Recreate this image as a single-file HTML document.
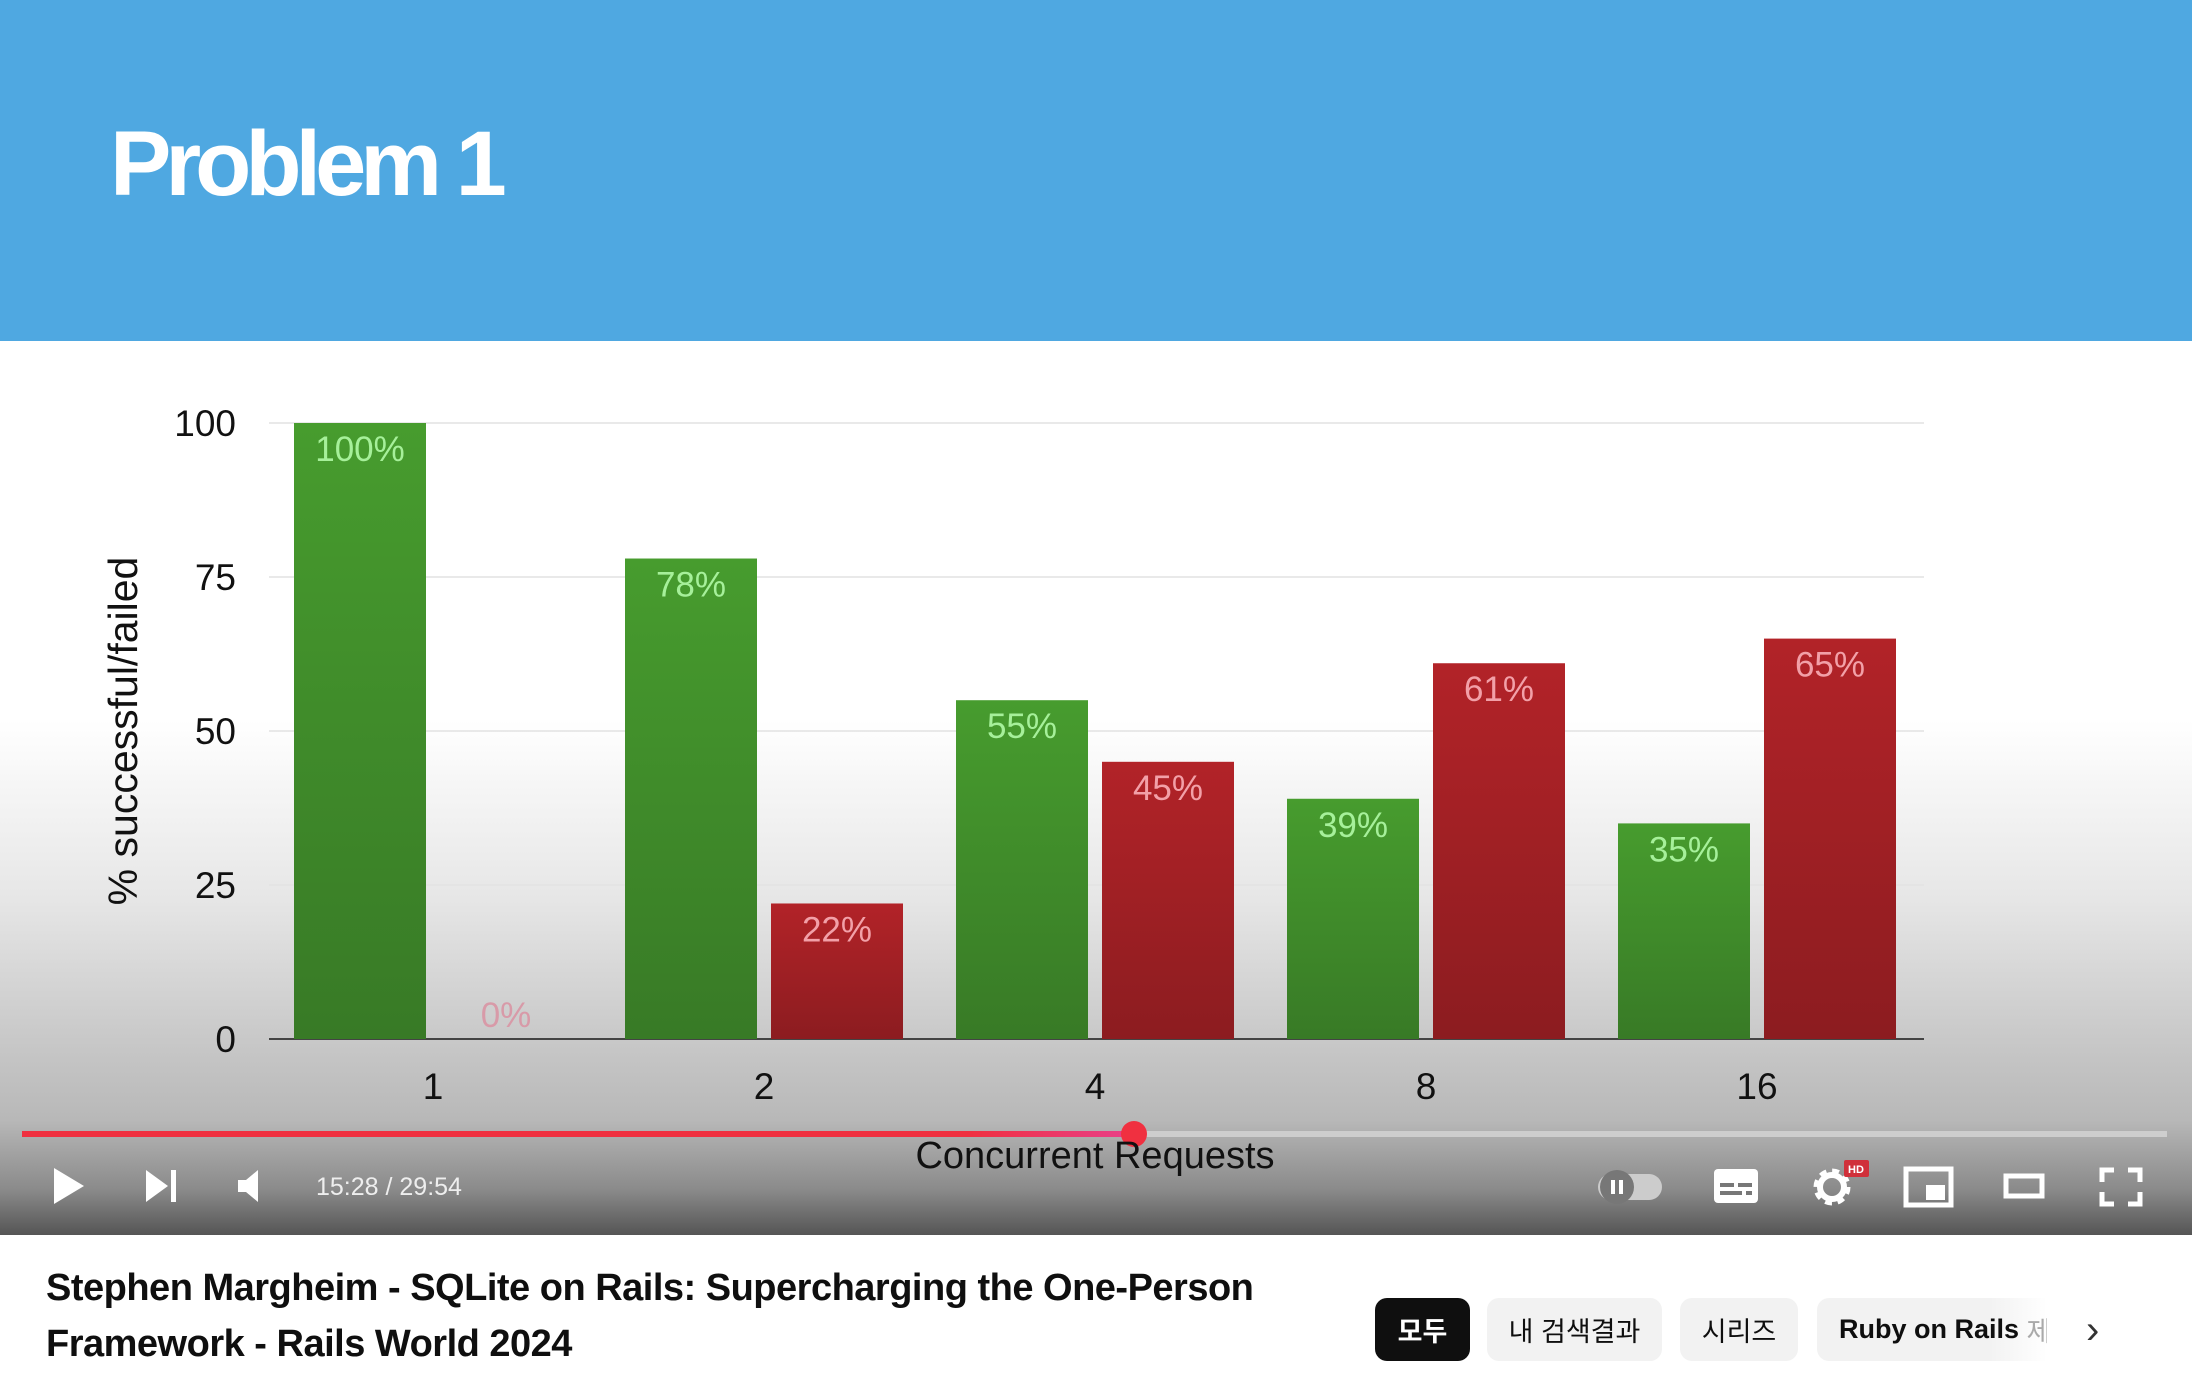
<!DOCTYPE html>
<html><head><meta charset="utf-8"><style>
body{margin:0;width:2194px;height:1374px;overflow:hidden;background:#fff;font-family:"Liberation Sans","Noto Sans CJK KR",sans-serif;position:relative}
.abs{position:absolute}
</style></head><body>
<div class="abs" style="left:0;top:0;width:2192px;height:1235px;background:linear-gradient(to bottom,#fff 0px,#fff 720px,#e6e6e6 900px,#c4c4c4 1060px,#b8b8b8 1120px,#8a8a8a 1190px,#555 1235px)"></div>
<div class="abs" style="left:0;top:0;width:2192px;height:341px;background:#4fa8e1"></div>
<div class="abs" style="left:110px;top:112px;font-size:92px;font-weight:bold;color:#fff;letter-spacing:-6px">Problem 1</div>
<svg class="abs" style="left:0;top:0" width="2194" height="1240" id="chart"></svg>
<div class="abs" style="left:22px;top:1131px;width:2145px;height:6px;background:rgba(220,220,220,0.7)"></div>
<div class="abs" style="left:22px;top:1131px;width:1112px;height:6px;background:linear-gradient(to right,#f03040 85%,#e8408a)"></div>
<div class="abs" style="left:1121px;top:1121px;width:26px;height:26px;border-radius:50%;background:#f03040"></div>
<div class="abs" style="left:895px;top:1135px;width:400px;text-align:center;font-size:38px;color:#111">Concurrent Requests</div>
<svg class="abs" style="left:0;top:1160px" width="2194" height="60">
<polygon points="54,8 84,26 54,44" fill="#fff"/>
<g><polygon points="146,10 168,26 146,42" fill="#fff"/><rect x="171" y="10" width="5" height="32" fill="#fff"/></g>
<g><polygon points="238,20 246,20 258,10 258,42 246,32 238,32" fill="#fff"/></g>
<text x="316" y="35" font-size="25" fill="#eee" font-family="Liberation Sans">15:28 / 29:54</text>
<g><rect x="1598" y="14" width="64" height="26" rx="13" fill="#ccc"/><circle cx="1617" cy="27" r="17" fill="#777"/><rect x="1611" y="20" width="4" height="14" fill="#fff"/><rect x="1619" y="20" width="4" height="14" fill="#fff"/></g>
<g><rect x="1714" y="9" width="44" height="34" rx="4" fill="#fff"/><rect x="1720" y="23" width="14" height="4" fill="#777"/><rect x="1738" y="23" width="14" height="4" fill="#777"/><rect x="1720" y="31" width="22" height="4" fill="#777"/><rect x="1746" y="31" width="6" height="4" fill="#777"/></g>
<g><circle cx="1832" cy="27" r="14" fill="none" stroke="#fff" stroke-width="9" stroke-dasharray="6 5"/><circle cx="1832" cy="27" r="12" fill="none" stroke="#fff" stroke-width="6"/><rect x="1844" y="0" width="25" height="17" rx="2" fill="#d0303a"/><text x="1856" y="13" font-size="11" font-weight="bold" fill="#fff" text-anchor="middle" font-family="Liberation Sans">HD</text></g>
<g><rect x="1906" y="9" width="45" height="36" fill="none" stroke="#fff" stroke-width="5"/><rect x="1926" y="25" width="19" height="15" fill="#fff"/></g>
<g><rect x="2006" y="16" width="36" height="20" fill="none" stroke="#fff" stroke-width="5"/></g>
<g fill="none" stroke="#fff" stroke-width="5"><path d="M2102,22 V10 H2114 M2128,10 H2140 V22 M2140,32 V44 H2128 M2114,44 H2102 V32"/></g>
</svg>
<div class="abs" style="left:46px;top:1260px;font-size:38px;font-weight:bold;color:#0f0f0f;line-height:56px;letter-spacing:-0.5px">Stephen Margheim - SQLite on Rails: Supercharging the One-Person<br>Framework - Rails World 2024</div>
<div class="abs" style="left:1375px;top:1298px;width:95px;height:63px;border-radius:12px;background:#0f0f0f;color:#fff;font-size:27px;font-weight:bold;display:flex;align-items:center;justify-content:center">모두</div>
<div class="abs" style="left:1487px;top:1298px;width:175px;height:63px;border-radius:12px;background:#f2f2f2;color:#0f0f0f;font-size:27px;display:flex;align-items:center;justify-content:center">내 검색결과</div>
<div class="abs" style="left:1680px;top:1298px;width:118px;height:63px;border-radius:12px;background:#f2f2f2;color:#0f0f0f;font-size:27px;display:flex;align-items:center;justify-content:center">시리즈</div>
<div class="abs" style="left:1817px;top:1298px;width:230px;height:63px;border-radius:12px 0 0 12px;background:linear-gradient(to right,#f2f2f2 75%,#fff);color:#0f0f0f;font-size:27px;font-weight:bold;display:flex;align-items:center;padding-left:22px;box-sizing:border-box;overflow:hidden;white-space:nowrap">Ruby on Rails <span style="color:#aaa;font-weight:normal">&nbsp;제</span></div>
<div class="abs" style="left:2086px;top:1308px;font-size:40px;color:#333">›</div>
<script>
const categories=["1","2","4","8","16"];
const successVals=[100,78,55,39,35];
const failedVals=[0,22,45,61,65];
const yTicks=[0,25,50,75,100];
const svg=document.getElementById('chart');
const NS='http://www.w3.org/2000/svg';
const y0=1039,y1=423,xL=269,xR=1924;
function yS(v){return y0-(y0-y1)*v/100;}
function xC(i){return 433+i*331;}
function mk(t,a){const e=document.createElementNS(NS,t);for(const k in a)e.setAttribute(k,a[k]);svg.appendChild(e);return e;}
const defs=mk('defs',{});
defs.innerHTML='<linearGradient id="gg" x1="0" y1="0" x2="0" y2="1"><stop offset="0" stop-color="#479c2e"/><stop offset="1" stop-color="#387a26"/></linearGradient><linearGradient id="rg" x1="0" y1="0" x2="0" y2="1"><stop offset="0" stop-color="#b22328"/><stop offset="1" stop-color="#8c1c20"/></linearGradient>';
yTicks.forEach(v=>{
  const l=mk('line',{x1:xL,x2:xR,y1:yS(v),y2:yS(v),stroke:v===0?'#444':'#e2e2e2','stroke-width':v===0?2:1.5});
  
  
  const t=mk('text',{x:236,y:yS(v)+13,'text-anchor':'end','font-size':37,fill:'#111','font-family':'Liberation Sans'});
  t.textContent=v;
  
  
});
const yt=mk('text',{x:0,y:0,transform:'translate(137,731) rotate(-90)','text-anchor':'middle','font-size':41,fill:'#111','font-family':'Liberation Sans'});
yt.textContent='% successful/failed';


categories.forEach((c,i)=>{
  const cx=xC(i);
  [[successVals[i],cx-139,'url(#gg)','#a6f09a','success'],[failedVals[i],cx+7,'url(#rg)','#f2a0a8','failed']].forEach(([v,x,f,lc,n])=>{
    const top=yS(v);
    if(v>0){
      const r=mk('rect',{x:x,y:top,width:132,height:y0-top,fill:f});
      
      
    }
    const t=mk('text',{x:x+66,y:v>0?top+38:y0-12,'text-anchor':'middle','font-size':35,fill:v>0?lc:'#d89aa8','font-family':'Liberation Sans'});
    t.textContent=v+'%';
    
    
  });
  const t=mk('text',{x:cx,y:1099,'text-anchor':'middle','font-size':37,fill:'#111','font-family':'Liberation Sans'});
  t.textContent=c;
  
  
});
</script>
</body></html>
